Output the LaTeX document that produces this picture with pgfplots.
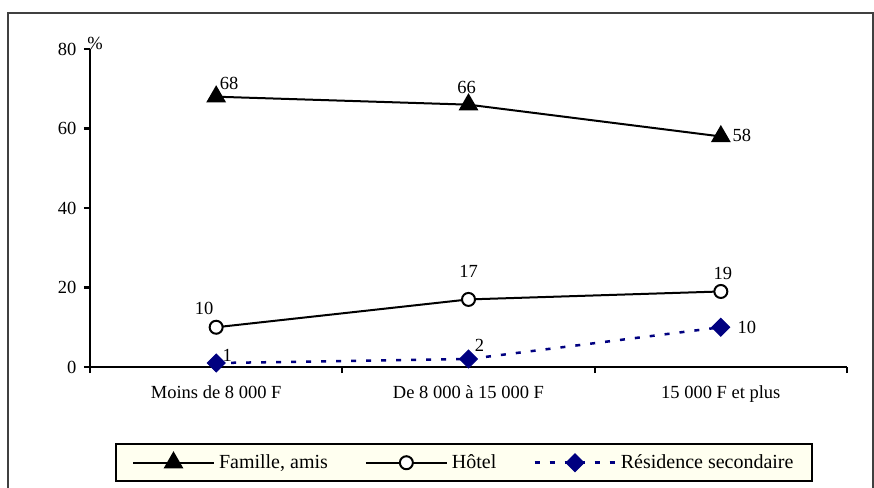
\documentclass[border=0pt]{standalone}
\usepackage{pgfplots}
\pgfplotsset{compat=1.18}
\usepackage{fontspec}
\setmainfont{Liberation Serif}
\definecolor{ivory}{RGB}{255,255,240}
\definecolor{navyb}{RGB}{0,0,128}
\begin{document}
\begin{tikzpicture}
\useasboundingbox (-90pt,-120pt) rectangle (784pt,367pt);
\draw[black!75, line width=1.5pt] (-82pt,-130pt) -- (-82pt,354pt) -- (783pt,354pt) -- (783pt,-130pt);
\begin{axis}[
  at={(0pt,0pt)}, anchor=south west,
  scale only axis, width=757pt, height=318pt,
  xmin=-0.5, xmax=2.5, ymin=0, ymax=80,
  axis lines*=left,
  axis line style={-, line width=2.2pt},
  tick align=outside,
  major tick length=6pt,
  tick style={line width=2.2pt, black},
  ytick={0,20,40,60,80},
  xtick={-0.5,0.5,1.5,2.5},
  xticklabels={},
  extra x ticks={0,1,2},
  extra x tick labels={Moins de 8~000 F, De 8~000 à 15~000 F, 15~000 F et plus},
  extra x tick style={major tick length=0pt, tick style={draw=none}},
  tick label style={font=\fontsize{18.5}{20}\selectfont},
  xticklabel style={yshift=-15pt},
  yticklabel style={xshift=-4pt},
  /pgf/number format/assume math mode=true,
  legend columns=3,
  legend style={at={(axis description cs:0,0)}, anchor=north west,
    xshift=25pt, yshift=-76pt, draw=black, line width=2pt, fill=ivory,
    inner xsep=16pt, inner ysep=9pt, column sep=2pt,
    /tikz/every even column/.append style={column sep=35pt},
    font=\fontsize{20}{22}\selectfont},
  legend image code/.code={\draw[mark repeat=2,mark phase=2,#1] plot coordinates {(0pt,0pt) (40.5pt,0pt) (81pt,0pt)};},
  clip=false,
]
\addplot[black, line width=2pt, mark=triangle*, mark size=9.5pt, mark options={solid, fill=black}]
  coordinates {(0,68) (1,66) (2,58)};
\addlegendentry{Famille, amis}
\addplot[black, line width=2pt, mark=*, mark size=6.5pt, mark options={solid, fill=white}]
  coordinates {(0,10) (1,17) (2,19)};
\addlegendentry{Hôtel}
\addplot[navyb, line width=2.5pt, dash pattern=on 5pt off 10pt, mark=square*, mark size=6.3pt, mark options={solid, fill=navyb, rotate=45, line width=1pt}]
  coordinates {(0,1) (1,2) (2,10)};
\addlegendentry{Résidence secondaire}
\begin{scope}[every node/.style={font=\fontsize{18.5}{20}\selectfont, inner sep=0pt}]
\node[xshift=13pt, yshift=13pt] at (axis cs:0,68) {68};
\node[xshift=-2pt, yshift=17pt] at (axis cs:1,66) {66};
\node[xshift=21pt, yshift=1pt] at (axis cs:2,58) {58};
\node[xshift=-12pt, yshift=19pt] at (axis cs:0,10) {10};
\node[xshift=0pt, yshift=28pt] at (axis cs:1,17) {17};
\node[xshift=2pt, yshift=18pt] at (axis cs:2,19) {19};
\node[xshift=11pt, yshift=8pt] at (axis cs:0,1) {1};
\node[xshift=11pt, yshift=14pt] at (axis cs:1,2) {2};
\node[xshift=26pt, yshift=0pt] at (axis cs:2,10) {10};
\node[xshift=5pt, yshift=6pt] at (rel axis cs:0,1) {\%};
\end{scope}
\end{axis}
\end{tikzpicture}
\end{document}
